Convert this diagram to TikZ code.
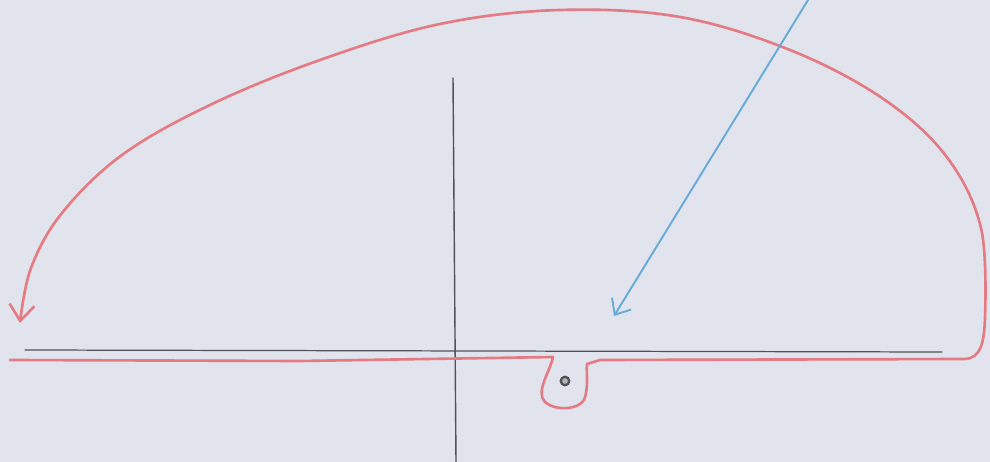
\documentclass[tikz,border=0pt]{standalone}
\usepackage{xcolor}
\usetikzlibrary{arrows.meta}
\definecolor{sketchPaper}{RGB}{225,228,236}
\definecolor{sketchRed}{RGB}{228,122,132}
\definecolor{sketchBlue}{RGB}{104,170,218}
\definecolor{sketchPencil}{RGB}{80,82,88}
\colorlet{paper}{sketchPaper}
\colorlet{contour}{sketchRed}
\colorlet{ray}{sketchBlue}
\colorlet{pencil}{sketchPencil}

\begin{document}
\begin{tikzpicture}[x=0.02cm,y=-0.02cm,line cap=round,line join=round]
\fill[paper] (0,0) rectangle (990,462);
\useasboundingbox (0,0) rectangle (990,462);
% axes
\coordinate (reL) at (25,350);
\coordinate (reR) at (942,352);
\coordinate (imT) at (453,78);
\coordinate (imB) at (456,462);
\draw[pencil,line width=0.7pt] (reL) -- (reR);
\draw[pencil,line width=0.8pt] (imT) -- (imB);
% pole below the axis
\node[circle,draw=pencil,fill=gray!60,line width=1.3pt,inner sep=0pt,minimum size=0.17cm] (pole) at (565,381) {};
% the red contour with its keyhole
\draw[contour,line width=1.5pt,-{Straight Barb[length=0.32cm,width=0.5cm]}]
 (10,360) -- (300,361) -- (553,357)
 .. controls (550,372) and (535,392) .. (545,402)
 .. controls (555,411) and (578,410) .. (584,400)
 .. controls (589,388) and (586,372) .. (587,364)
 -- (600,360) -- (965,359)
 .. controls (980,358) and (984,345) .. (985,318)
 -- plot[smooth,tension=0.6] coordinates {(985,318) (981,228) (946,156) (882,98) (790,50) (680,17) (560,10) (440,24) (320,60) (210,105) (122,155) (62,213) (31,268) (20,323)};
% blue ray
\coordinate (rayStart) at (808,0);
\coordinate (rayEnd) at (614,316);
\draw[ray,line width=1.1pt,-{Straight Barb[length=0.26cm,width=0.45cm]}] (rayStart) -- (rayEnd);
\end{tikzpicture}
\end{document}
